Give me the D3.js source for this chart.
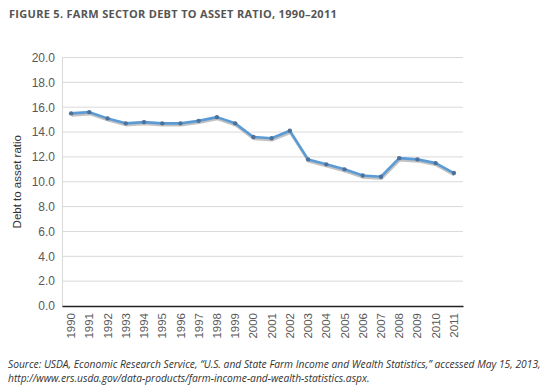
<!DOCTYPE html>
<html>
<head>
<meta charset="utf-8">
<script src="https://cdn.jsdelivr.net/npm/d3@7"></script>
<style>
  body { margin: 0; background: #fff; }
  svg { display: block; }
  .title { font-family: "Open Sans", sans-serif; font-weight: 700; font-size: 11px; letter-spacing: 0.3px; fill: #555; }
  .tick text { font-family: "Liberation Sans", Arial, sans-serif; fill: #595959; }
  .src { font-family: "Open Sans", sans-serif; font-style: italic; font-size: 10.25px; fill: #333; }
</style>
</head>
<body>
<svg width="550" height="390"></svg>
<script>
// chart data
const years = ["1990","1991","1992","1993","1994","1995","1996","1997","1998","1999","2000",
               "2001","2002","2003","2004","2005","2006","2007","2008","2009","2010","2011"];
const ratio = [15.5, 15.6, 15.1, 14.7, 14.8, 14.7, 14.7, 14.9, 15.2, 14.7, 13.6,
               13.5, 14.1, 11.8, 11.4, 11.0, 10.5, 10.4, 11.9, 11.8, 11.5, 10.7];
const yTicks = [0, 2, 4, 6, 8, 10, 12, 14, 16, 18, 20];

const svg = d3.select("svg");
const m = {left: 62, right: 87, top: 57.5, bottom: 84};
const W = 550, H = 390;

const x = d3.scaleBand().domain(years).range([m.left, W - m.right]);
const y = d3.scaleLinear().domain([0, 20]).range([H - m.bottom, m.top]);

svg.append("text").attr("class", "title")
    .attr("x", 9).attr("y", 18)
    .text("FIGURE 5. FARM SECTOR DEBT TO ASSET RATIO, 1990\u20132011");

// gridlines
svg.append("g")
    .selectAll("line")
    .data(yTicks.slice(1))
    .join("line")
    .attr("x1", m.left).attr("x2", W - m.right)
    .attr("y1", d => y(d)).attr("y2", d => y(d))
    .attr("stroke", "#d9d9d9").attr("stroke-width", 1);

// y axis
const yAx = svg.append("g")
    .attr("transform", `translate(${m.left},0)`)
    .call(d3.axisLeft(y).tickValues(yTicks).tickFormat(d3.format(".1f")).tickSize(0).tickPadding(7));
yAx.select(".domain").attr("stroke", "#d9d9d9");
yAx.selectAll("text").attr("font-size", 12);

// x axis
const xAx = svg.append("g")
    .attr("transform", `translate(0,${y(0)})`)
    .call(d3.axisBottom(x).tickSize(0).tickPadding(0));
xAx.select(".domain").attr("stroke", "#222").attr("stroke-width", 1.6);
xAx.selectAll("text")
    .attr("font-size", 11.5)
    .attr("transform", "rotate(-90)")
    .attr("text-anchor", "end")
    .attr("x", -7).attr("y", 0).attr("dy", "0.35em");

svg.append("text")
    .attr("transform", `translate(21,${(y(0) + y(20)) / 2}) rotate(-90)`)
    .attr("text-anchor", "middle")
    .attr("font-family", "Liberation Sans, Arial, sans-serif")
    .attr("font-size", 11.5).attr("fill", "#333")
    .text("Debt to asset ratio");

const line = d3.line()
    .x((d, i) => x(years[i]) + x.bandwidth() / 2)
    .y(d => y(d));

// shadow
svg.append("path").datum(ratio)
    .attr("d", line)
    .attr("transform", "translate(0.5,2)")
    .attr("fill", "none").attr("stroke", "#9a9a9a").attr("stroke-opacity", 0.6)
    .attr("stroke-width", 2.5);

svg.append("path").datum(ratio)
    .attr("d", line)
    .attr("fill", "none").attr("stroke", "#5b9bd5")
    .attr("stroke-width", 2.6).attr("stroke-linejoin", "round");

svg.append("g")
    .selectAll("circle")
    .data(ratio)
    .join("circle")
    .attr("cx", (d, i) => x(years[i]) + x.bandwidth() / 2)
    .attr("cy", d => y(d))
    .attr("r", 2.2)
    .attr("fill", "#4f7199");

const src = svg.append("text").attr("class", "src");
src.append("tspan").attr("x", 8).attr("y", 368)
    .text("Source: USDA, Economic Research Service, \u201cU.S. and State Farm Income and Wealth Statistics,\u201d accessed May 15, 2013,");
src.append("tspan").attr("x", 8).attr("y", 382)
    .text("http://www.ers.usda.gov/data-products/farm-income-and-wealth-statistics.aspx.");
</script>
</body>
</html>
